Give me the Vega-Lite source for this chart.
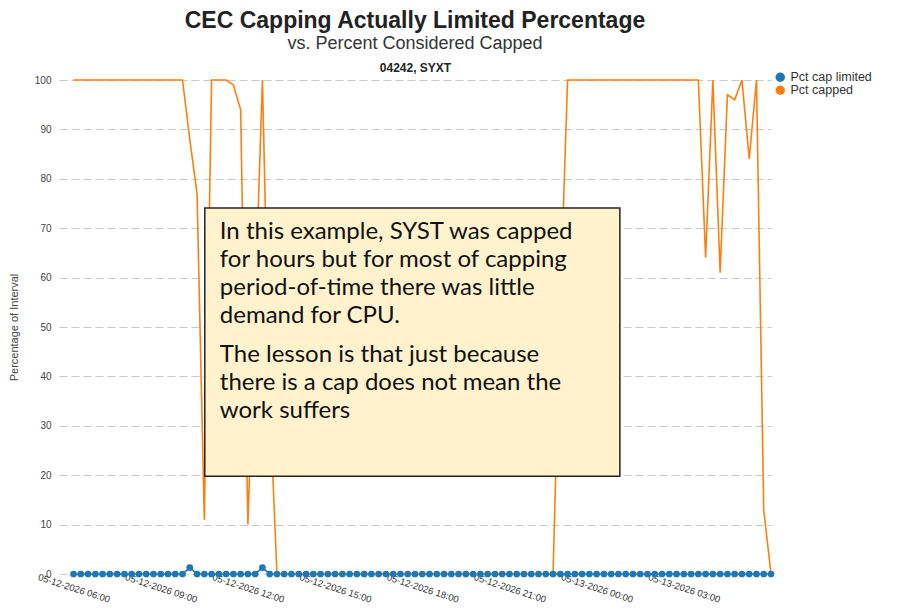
{
  "$schema": "https://vega.github.io/schema/vega-lite/v6.json",
  "width": 712,
  "height": 494,
  "padding": {"left": 8, "top": 10, "right": 5, "bottom": 5},
  "background": "white",
  "config": {
    "font": "Liberation Sans",
    "view": {"stroke": null},
    "axis": {"labelColor": "#444", "titleColor": "#444", "labelFontSize": 10, "titleFontWeight": "normal"}
  },
  "title": {
    "text": "CEC Capping Actually Limited Percentage",
    "subtitle": "vs. Percent Considered Capped",
    "fontSize": 23,
    "fontWeight": "bold",
    "color": "#222",
    "subtitleFontSize": 18,
    "subtitleColor": "#333",
    "subtitlePadding": 2,
    "anchor": "middle",
    "offset": 8
  },
  "resolve": {"axis": {"x": "independent"}},
  "datasets": {
    "series": [
      {"t": "2026-05-12T06:00", "Pct cap limited": 0, "Pct capped": 100},
      {"t": "2026-05-12T06:15", "Pct cap limited": 0, "Pct capped": 100},
      {"t": "2026-05-12T06:30", "Pct cap limited": 0, "Pct capped": 100},
      {"t": "2026-05-12T06:45", "Pct cap limited": 0, "Pct capped": 100},
      {"t": "2026-05-12T07:00", "Pct cap limited": 0, "Pct capped": 100},
      {"t": "2026-05-12T07:15", "Pct cap limited": 0, "Pct capped": 100},
      {"t": "2026-05-12T07:30", "Pct cap limited": 0, "Pct capped": 100},
      {"t": "2026-05-12T07:45", "Pct cap limited": 0, "Pct capped": 100},
      {"t": "2026-05-12T08:00", "Pct cap limited": 0, "Pct capped": 100},
      {"t": "2026-05-12T08:15", "Pct cap limited": 0, "Pct capped": 100},
      {"t": "2026-05-12T08:30", "Pct cap limited": 0, "Pct capped": 100},
      {"t": "2026-05-12T08:45", "Pct cap limited": 0, "Pct capped": 100},
      {"t": "2026-05-12T09:00", "Pct cap limited": 0, "Pct capped": 100},
      {"t": "2026-05-12T09:15", "Pct cap limited": 0, "Pct capped": 100},
      {"t": "2026-05-12T09:30", "Pct cap limited": 0, "Pct capped": 100},
      {"t": "2026-05-12T09:45", "Pct cap limited": 0, "Pct capped": 100},
      {"t": "2026-05-12T10:00", "Pct cap limited": 1.3, "Pct capped": 88},
      {"t": "2026-05-12T10:15", "Pct cap limited": 0, "Pct capped": 77},
      {"t": "2026-05-12T10:30", "Pct cap limited": 0, "Pct capped": 11},
      {"t": "2026-05-12T10:45", "Pct cap limited": 0, "Pct capped": 100},
      {"t": "2026-05-12T11:00", "Pct cap limited": 0, "Pct capped": 100},
      {"t": "2026-05-12T11:15", "Pct cap limited": 0, "Pct capped": 100},
      {"t": "2026-05-12T11:30", "Pct cap limited": 0, "Pct capped": 99},
      {"t": "2026-05-12T11:45", "Pct cap limited": 0, "Pct capped": 94},
      {"t": "2026-05-12T12:00", "Pct cap limited": 0, "Pct capped": 10},
      {"t": "2026-05-12T12:15", "Pct cap limited": 0, "Pct capped": 55},
      {"t": "2026-05-12T12:30", "Pct cap limited": 1.3, "Pct capped": 100},
      {"t": "2026-05-12T12:45", "Pct cap limited": 0, "Pct capped": 35},
      {"t": "2026-05-12T13:00", "Pct cap limited": 0, "Pct capped": 0},
      {"t": "2026-05-12T13:15", "Pct cap limited": 0, "Pct capped": 0},
      {"t": "2026-05-12T13:30", "Pct cap limited": 0, "Pct capped": 0},
      {"t": "2026-05-12T13:45", "Pct cap limited": 0, "Pct capped": 0},
      {"t": "2026-05-12T14:00", "Pct cap limited": 0, "Pct capped": 0},
      {"t": "2026-05-12T14:15", "Pct cap limited": 0, "Pct capped": 0},
      {"t": "2026-05-12T14:30", "Pct cap limited": 0, "Pct capped": 0},
      {"t": "2026-05-12T14:45", "Pct cap limited": 0, "Pct capped": 0},
      {"t": "2026-05-12T15:00", "Pct cap limited": 0, "Pct capped": 0},
      {"t": "2026-05-12T15:15", "Pct cap limited": 0, "Pct capped": 0},
      {"t": "2026-05-12T15:30", "Pct cap limited": 0, "Pct capped": 0},
      {"t": "2026-05-12T15:45", "Pct cap limited": 0, "Pct capped": 0},
      {"t": "2026-05-12T16:00", "Pct cap limited": 0, "Pct capped": 0},
      {"t": "2026-05-12T16:15", "Pct cap limited": 0, "Pct capped": 0},
      {"t": "2026-05-12T16:30", "Pct cap limited": 0, "Pct capped": 0},
      {"t": "2026-05-12T16:45", "Pct cap limited": 0, "Pct capped": 0},
      {"t": "2026-05-12T17:00", "Pct cap limited": 0, "Pct capped": 0},
      {"t": "2026-05-12T17:15", "Pct cap limited": 0, "Pct capped": 0},
      {"t": "2026-05-12T17:30", "Pct cap limited": 0, "Pct capped": 0},
      {"t": "2026-05-12T17:45", "Pct cap limited": 0, "Pct capped": 0},
      {"t": "2026-05-12T18:00", "Pct cap limited": 0, "Pct capped": 0},
      {"t": "2026-05-12T18:15", "Pct cap limited": 0, "Pct capped": 0},
      {"t": "2026-05-12T18:30", "Pct cap limited": 0, "Pct capped": 0},
      {"t": "2026-05-12T18:45", "Pct cap limited": 0, "Pct capped": 0},
      {"t": "2026-05-12T19:00", "Pct cap limited": 0, "Pct capped": 0},
      {"t": "2026-05-12T19:15", "Pct cap limited": 0, "Pct capped": 0},
      {"t": "2026-05-12T19:30", "Pct cap limited": 0, "Pct capped": 0},
      {"t": "2026-05-12T19:45", "Pct cap limited": 0, "Pct capped": 0},
      {"t": "2026-05-12T20:00", "Pct cap limited": 0, "Pct capped": 0},
      {"t": "2026-05-12T20:15", "Pct cap limited": 0, "Pct capped": 0},
      {"t": "2026-05-12T20:30", "Pct cap limited": 0, "Pct capped": 0},
      {"t": "2026-05-12T20:45", "Pct cap limited": 0, "Pct capped": 0},
      {"t": "2026-05-12T21:00", "Pct cap limited": 0, "Pct capped": 0},
      {"t": "2026-05-12T21:15", "Pct cap limited": 0, "Pct capped": 0},
      {"t": "2026-05-12T21:30", "Pct cap limited": 0, "Pct capped": 0},
      {"t": "2026-05-12T21:45", "Pct cap limited": 0, "Pct capped": 0},
      {"t": "2026-05-12T22:00", "Pct cap limited": 0, "Pct capped": 0},
      {"t": "2026-05-12T22:15", "Pct cap limited": 0, "Pct capped": 0},
      {"t": "2026-05-12T22:30", "Pct cap limited": 0, "Pct capped": 0},
      {"t": "2026-05-12T22:45", "Pct cap limited": 0, "Pct capped": 55},
      {"t": "2026-05-12T23:00", "Pct cap limited": 0, "Pct capped": 100},
      {"t": "2026-05-12T23:15", "Pct cap limited": 0, "Pct capped": 100},
      {"t": "2026-05-12T23:30", "Pct cap limited": 0, "Pct capped": 100},
      {"t": "2026-05-12T23:45", "Pct cap limited": 0, "Pct capped": 100},
      {"t": "2026-05-13T00:00", "Pct cap limited": 0, "Pct capped": 100},
      {"t": "2026-05-13T00:15", "Pct cap limited": 0, "Pct capped": 100},
      {"t": "2026-05-13T00:30", "Pct cap limited": 0, "Pct capped": 100},
      {"t": "2026-05-13T00:45", "Pct cap limited": 0, "Pct capped": 100},
      {"t": "2026-05-13T01:00", "Pct cap limited": 0, "Pct capped": 100},
      {"t": "2026-05-13T01:15", "Pct cap limited": 0, "Pct capped": 100},
      {"t": "2026-05-13T01:30", "Pct cap limited": 0, "Pct capped": 100},
      {"t": "2026-05-13T01:45", "Pct cap limited": 0, "Pct capped": 100},
      {"t": "2026-05-13T02:00", "Pct cap limited": 0, "Pct capped": 100},
      {"t": "2026-05-13T02:15", "Pct cap limited": 0, "Pct capped": 100},
      {"t": "2026-05-13T02:30", "Pct cap limited": 0, "Pct capped": 100},
      {"t": "2026-05-13T02:45", "Pct cap limited": 0, "Pct capped": 100},
      {"t": "2026-05-13T03:00", "Pct cap limited": 0, "Pct capped": 100},
      {"t": "2026-05-13T03:15", "Pct cap limited": 0, "Pct capped": 100},
      {"t": "2026-05-13T03:30", "Pct cap limited": 0, "Pct capped": 100},
      {"t": "2026-05-13T03:45", "Pct cap limited": 0, "Pct capped": 64},
      {"t": "2026-05-13T04:00", "Pct cap limited": 0, "Pct capped": 100},
      {"t": "2026-05-13T04:15", "Pct cap limited": 0, "Pct capped": 61},
      {"t": "2026-05-13T04:30", "Pct cap limited": 0, "Pct capped": 97},
      {"t": "2026-05-13T04:45", "Pct cap limited": 0, "Pct capped": 96},
      {"t": "2026-05-13T05:00", "Pct cap limited": 0, "Pct capped": 100},
      {"t": "2026-05-13T05:15", "Pct cap limited": 0, "Pct capped": 84},
      {"t": "2026-05-13T05:30", "Pct cap limited": 0, "Pct capped": 100},
      {"t": "2026-05-13T05:45", "Pct cap limited": 0, "Pct capped": 13},
      {"t": "2026-05-13T06:00", "Pct cap limited": 0, "Pct capped": 0}
    ],
    "box": [
      {"t1": "2026-05-12T10:31", "t2": "2026-05-13T00:48", "v1": 74.1, "v2": 19.8}
    ],
    "notes": [
      {"t": "2026-05-12T11:02", "v": 69.2, "lines": ["In this example, SYST was capped", "for hours but for most of capping", "period-of-time there was little", "demand for CPU."]},
      {"t": "2026-05-12T11:02", "v": 44.3, "lines": ["The lesson is that just because", "there is a cap does not mean the", "work suffers"]}
    ]
  },
  "layer": [
    {
      "data": {"name": "series"},
      "transform": [{"fold": ["Pct cap limited", "Pct capped"], "as": ["series", "value"]}],
      "mark": {"type": "line", "strokeWidth": 1.6},
      "encoding": {
        "x": {
          "field": "t", "type": "temporal",
          "scale": {"domain": [{"year": 2026, "month": 5, "date": 12, "hours": 5, "minutes": 30}, {"year": 2026, "month": 5, "date": 13, "hours": 6, "minutes": 0}]},
          "axis": {
            "title": null, "domain": false, "ticks": false, "grid": false,
            "values": [
              {"year": 2026, "month": 5, "date": 12, "hours": 6},
              {"year": 2026, "month": 5, "date": 12, "hours": 9},
              {"year": 2026, "month": 5, "date": 12, "hours": 12},
              {"year": 2026, "month": 5, "date": 12, "hours": 15},
              {"year": 2026, "month": 5, "date": 12, "hours": 18},
              {"year": 2026, "month": 5, "date": 12, "hours": 21},
              {"year": 2026, "month": 5, "date": 13, "hours": 0},
              {"year": 2026, "month": 5, "date": 13, "hours": 3}
            ],
            "format": "%m-%d-%Y %H:%M",
            "labelAngle": 18, "labelAlign": "center", "labelBaseline": "middle", "labelPadding": 14,
            "labelFontSize": 9.5, "labelColor": "#333", "labelOverlap": false
          }
        },
        "y": {
          "field": "value", "type": "quantitative",
          "scale": {"domain": [0, 100], "nice": false},
          "axis": {
            "title": "Percentage of Interval", "titleFontSize": 11, "titlePadding": 15,
            "values": [0, 10, 20, 30, 40, 50, 60, 70, 80, 90, 100],
            "domain": false, "ticks": false, "labelPadding": 8,
            "grid": true, "gridColor": "#c8c8c8", "gridDash": [8, 4], "gridWidth": 1
          }
        },
        "color": {
          "field": "series", "type": "nominal",
          "scale": {"domain": ["Pct cap limited", "Pct capped"], "range": ["#1f77b4", "#ff7f0e"]},
          "legend": {
            "title": null, "orient": "none", "legendX": 715, "legendY": -9, "labelFontSize": 12.5, "labelColor": "#333",
            "symbolType": "circle", "symbolSize": 90, "rowPadding": 0, "symbolOffset": 0, "labelOffset": 4,
            "encode": {"symbols": {"update": {"fill": {"scale": "color", "field": "value"}, "strokeWidth": {"value": 0}}}}
          }
        }
      }
    },
    {
      "data": {"name": "series"},
      "mark": {"type": "point", "filled": true, "size": 45, "opacity": 1, "color": "#1f77b4"},
      "encoding": {
        "x": {
          "field": "t", "type": "temporal",
          "axis": {"orient": "top", "title": "04242, SYXT", "titleFontSize": 12, "titleFontWeight": "bold", "titleColor": "#222", "titlePadding": 6, "labels": false, "ticks": false, "domain": false, "grid": false}
        },
        "y": {"field": "Pct cap limited", "type": "quantitative"}
      }
    },
    {
      "data": {"name": "box"},
      "mark": {"type": "rect", "fill": "#FFF2CC", "stroke": "#222", "strokeWidth": 1.5},
      "encoding": {
        "x": {"field": "t1", "type": "temporal", "axis": null},
        "x2": {"field": "t2"},
        "y": {"field": "v1", "type": "quantitative"},
        "y2": {"field": "v2"}
      }
    },
    {
      "data": {"name": "notes"},
      "mark": {"type": "text", "align": "left", "baseline": "middle", "font": "Lato", "fontSize": 24, "lineHeight": 28, "color": "#111"},
      "encoding": {
        "x": {"field": "t", "type": "temporal", "axis": null},
        "y": {"field": "v", "type": "quantitative"},
        "text": {"field": "lines"}
      }
    }
  ]
}
